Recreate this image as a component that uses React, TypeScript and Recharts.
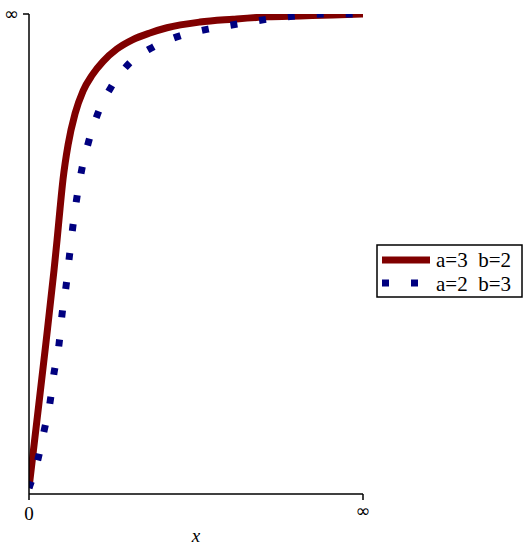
import React from 'react';
import { LineChart, Line, XAxis, YAxis, Label } from 'recharts';

// x and y both on a compactified [0, 1] scale (0 .. infinity)
const redX = [0, 0.025, 0.05, 0.075, 0.084, 0.093, 0.102, 0.117, 0.138, 0.162, 0.189, 0.222, 0.263, 0.311, 0.362, 0.413, 0.512, 0.611, 0.713, 0.811, 0.91, 1];
const redY = [0, 0.15, 0.302, 0.46, 0.523, 0.59, 0.652, 0.724, 0.79, 0.838, 0.871, 0.9, 0.926, 0.946, 0.96, 0.971, 0.983, 0.989, 0.994, 0.996, 0.998, 1];

const blueX = [0, 0.027, 0.045, 0.063, 0.075, 0.09, 0.099, 0.111, 0.121, 0.131, 0.143, 0.158, 0.179, 0.206, 0.246, 0.299, 0.371, 0.452, 0.536, 0.626, 0.713, 0.799, 0.886, 0.973, 1];
const blueY = [0, 0.061, 0.12, 0.181, 0.243, 0.304, 0.367, 0.426, 0.489, 0.55, 0.611, 0.672, 0.732, 0.79, 0.846, 0.895, 0.93, 0.954, 0.968, 0.979, 0.989, 0.996, 1, 1, 1];

const seriesNames = ['a=3\u00a0\u00a0b=2', 'a=2\u00a0\u00a0b=3'];
const xTicks = [0, 1];
const yTicks = [1];

const redData = redX.map((x, i) => ({ x, y: redY[i] }));
const blueData = blueX.map((x, i) => ({ x, y: blueY[i] }));

const SERIF = '"Liberation Serif", "Times New Roman", serif';
const SYMBOL = '"DejaVu Sans", sans-serif';

// 0 in serif, infinity in a sans font like the original
const AxisTick = (props: any) => {
  const { x, y, payload, textAnchor, axis } = props;
  const isInf = payload.value !== 0;
  return (
    <text
      x={x}
      y={y}
      textAnchor={textAnchor}
      dy={axis === 'x' ? (isInf ? 15 : 18) : 6}
      fill="#000"
      fontFamily={isInf ? SYMBOL : SERIF}
      fontSize={isInf ? 18 : 19}
    >
      {isInf ? '∞' : '0'}
    </text>
  );
};

const LegendBox = () => (
  <svg width={148} height={55} style={{ position: 'absolute', left: 376, top: 244 }}>
    <rect x={1} y={1} width={145} height={52} fill="#fff" stroke="#000" strokeWidth={1.5} />
    <line x1={6} y1={16} x2={54} y2={16} stroke="#800000" strokeWidth={7} />
    <line x1={6} y1={39} x2={54} y2={39} stroke="#000080" strokeWidth={7} strokeDasharray="7 22" />
    <text x={60} y={23} fontFamily={SERIF} fontSize={21} fill="#000">
      {seriesNames[0]}
    </text>
    <text x={60} y={47} fontFamily={SERIF} fontSize={21} fill="#000">
      {seriesNames[1]}
    </text>
  </svg>
);

export default function App() {
  return (
    <div style={{ position: 'absolute', left: 0, top: 0, width: 527, height: 550, background: '#fff' }}>
      <LineChart width={527} height={550} margin={{ top: 14, right: 164, left: 0, bottom: 0 }}>
        <XAxis
          type="number"
          dataKey="x"
          domain={[0, 1]}
          ticks={xTicks}
          allowDataOverflow
          height={56}
          stroke="#000"
          strokeWidth={1.5}
          tickSize={6}
          tickMargin={2}
          tick={<AxisTick axis="x" />}
        >
          <Label
            value="x"
            position="insideBottom"
            offset={8}
            style={{ fontFamily: SERIF, fontStyle: 'italic', fontSize: 19, fill: '#000' }}
          />
        </XAxis>
        <YAxis
          type="number"
          domain={[-0.0127, 1]}
          ticks={yTicks}
          allowDataOverflow
          width={29}
          stroke="#000"
          strokeWidth={1.5}
          tickSize={6}
          tickMargin={4}
          tick={<AxisTick axis="y" />}
        />
        <Line
          data={redData}
          dataKey="y"
          type="monotone"
          stroke="#800000"
          strokeWidth={7}
          dot={false}
          activeDot={false}
          isAnimationActive={false}
        />
        <Line
          data={blueData}
          dataKey="y"
          type="monotone"
          stroke="#000080"
          strokeWidth={7}
          strokeDasharray="7 22"
          dot={false}
          activeDot={false}
          isAnimationActive={false}
        />
      </LineChart>
      <LegendBox />
    </div>
  );
}
